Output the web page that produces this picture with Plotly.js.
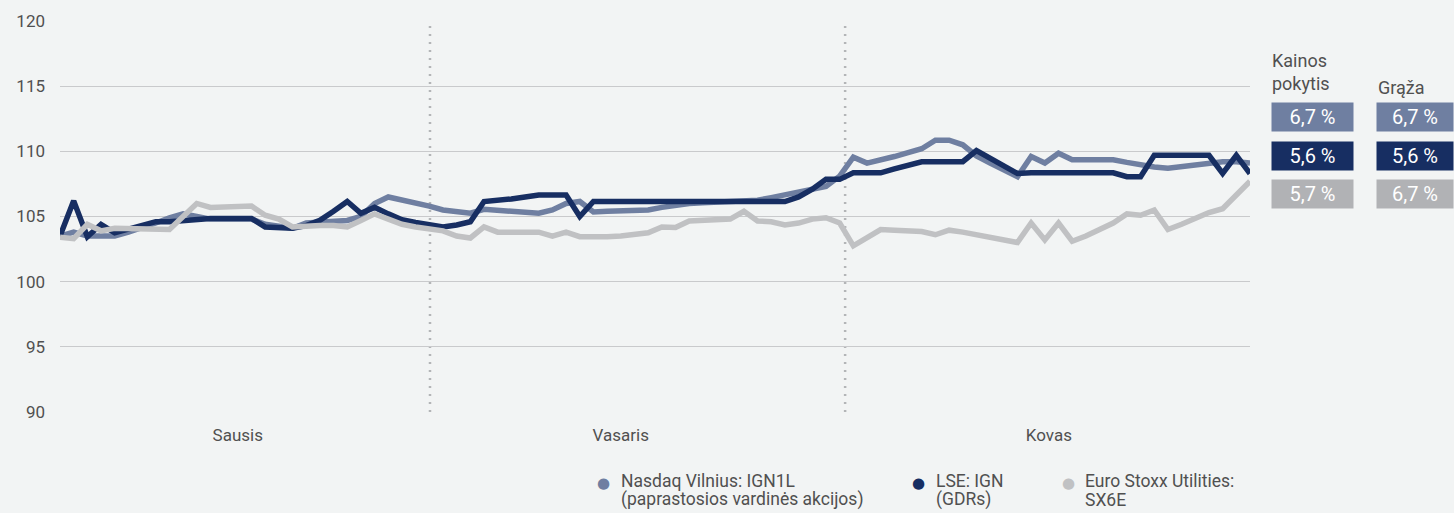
<!DOCTYPE html>
<html>
<head>
<meta charset="utf-8">
<script src="https://cdn.plot.ly/plotly-3.0.1.min.js"></script>
<style>
  html, body { margin: 0; padding: 0; background: #f2f4f4; }
  #chart { width: 1454px; height: 513px; }
</style>
</head>
<body>
<div id="chart"></div>
<script>
// ---- Data ----
const monthLabels = ["Sausis", "Vasaris", "Kovas"];
const monthTickPos = [13, 41, 72.3];
const monthDividers = [27.05, 57.4];

const seriesNames = [
  "Nasdaq Vilnius: IGN1L<br>(paprastosios vardinės akcijos)",
  "LSE: IGN<br>(GDRs)",
  "Euro Stoxx Utilities:<br>SX6E"
];

const nasdaqValues = [
  103.5, 103.8, 103.5, 103.5, 103.5, 103.8, 104.1, 104.5, 104.9, 105.2,
  105.0, 104.8, 104.8, 104.8, 104.8, 104.4, 104.3, 104.1, 104.5, 104.6,
  104.65, 104.7, 105.0, 106.0, 106.5, 106.3, 106.05, 105.8, 105.5, 105.4,
  105.25, 105.55, 105.45, 105.35, 105.3, 105.25, 105.5, 106.0, 106.15, 105.35,
  105.4, 105.45, 105.5, 105.5, 105.7, 105.9, 106.0, 106.05, 106.1, 106.15,
  106.2, 106.25, 106.45, 106.65, 106.8, 107.1, 107.3, 108.1, 109.55, 109.1,
  109.3, 109.6, 109.9, 110.2, 110.85, 110.85, 110.5, 109.65, 109.1, 108.55,
  108.05, 109.6, 109.1, 109.85, 109.35, 109.35, 109.35, 109.35, 109.15, 108.95,
  108.8, 108.7, 108.85, 109.0, 109.1, 109.2, 109.2, 109.1
];

const lseValues = [
  103.5, 106.2, 103.45, 104.4, 103.75, 104.0, 104.3, 104.6, 104.6, 104.7,
  104.75, 104.85, 104.85, 104.85, 104.85, 104.2, 104.2, 104.1, 104.3, 104.7,
  105.4, 106.15, 105.25, 105.7, 105.2, 104.75, 104.55, 104.4, 104.2, 104.35,
  104.6, 106.15, 106.2, 106.35, 106.5, 106.65, 106.65, 106.65, 105.0, 106.15,
  106.15, 106.15, 106.15, 106.15, 106.15, 106.15, 106.15, 106.15, 106.15, 106.15,
  106.15, 106.15, 106.15, 106.15, 106.5, 107.1, 107.85, 107.85, 108.35, 108.35,
  108.35, 108.65, 108.95, 109.2, 109.2, 109.2, 109.2, 110.05, 109.5, 108.9,
  108.3, 108.35, 108.35, 108.35, 108.35, 108.35, 108.35, 108.35, 108.05, 108.05,
  109.7, 109.7, 109.7, 109.7, 109.7, 108.3, 109.7, 108.3
];

const stoxxValues = [
  103.4, 103.3, 104.4, 103.9, 104.1, 104.1, 104.1, 104.1, 104.0, 105.0,
  106.0, 105.7, 105.7, 105.8, 105.8, 105.1, 104.8, 104.2, 104.3, 104.3,
  104.3, 104.2, 104.7, 105.2, 104.8, 104.4, 104.2, 104.0, 103.9, 103.5,
  103.35, 104.2, 103.8, 103.8, 103.8, 103.8, 103.5, 103.8, 103.45, 103.4,
  103.45, 103.5, 103.6, 103.75, 104.2, 104.15, 104.65, 104.7, 104.75, 104.8,
  105.4, 104.65, 104.6, 104.35, 104.5, 104.8, 104.9, 104.5, 102.75, 103.4,
  104.0, 103.95, 103.9, 103.85, 103.6, 103.95, 103.8, 103.6, 103.4, 103.15,
  103.0, 104.5, 103.2, 104.5, 103.1, 103.5, 104.0, 104.5, 105.2, 105.1,
  105.5, 104.0, 104.4, 104.9, 105.3, 105.6, 106.6, 107.7
];

const tableHeaders = ["Kainos<br>pokytis", "Grąža"];
const priceChange = ["6,7 %", "5,6 %", "5,7 %"];
const totalReturn = ["6,7 %", "5,6 %", "6,7 %"];

// ---- Styling ----
const colors = ["#6f7fa1", "#172e62", "#c0c1c3"];
const boxColors = ["#6f7fa1", "#172e62", "#b1b2b5"];
const FONT = "Roboto, Liberation Sans, Arial, sans-serif";
const TXT = "#505050";

// pixel helpers for the paper area (plot: x 60..1250, y 21..412)
const L = 60, R = 1250, T = 21, B = 412;
const px = v => (v - L) / (R - L);
const py = v => (B - v) / (B - T);

const valueSets = [nasdaqValues, lseValues, stoxxValues];
const traces = valueSets.map((vals, i) => ({
  type: "scatter",
  mode: "lines",
  y: vals,
  x0: 0, dx: 1,
  name: seriesNames[i],
  line: { color: colors[i], width: 5.5, shape: "linear" },
  showlegend: false,
  hoverinfo: "skip"
}));

const shapes = monthDividers.map(d => ({
  type: "line", xref: "x", yref: "paper",
  x0: d, x1: d, y0: 0, y1: 1,
  line: { color: "#b3b5b7", width: 2.5, dash: "2px,6px" },
  layer: "below"
}));

const annotations = [];
// Legend (drawn as text, one annotation per line for tight spacing)
const legendMarkerX = [603, 918, 1068];
const legendTextX = [619, 934, 1083];
const legendLineY = [481, 500];
seriesNames.forEach((n, i) => {
  annotations.push({
    xref: "paper", yref: "paper", x: px(legendMarkerX[i]), y: py(483),
    xanchor: "center", yanchor: "middle", showarrow: false,
    text: "●", font: { family: "DejaVu Sans", size: 15, color: colors[i] }
  });
  n.split("<br>").forEach((line, k) => {
    annotations.push({
      xref: "paper", yref: "paper", x: px(legendTextX[i]), y: py(legendLineY[k]),
      xanchor: "left", yanchor: "middle", align: "left", showarrow: false,
      text: line, font: { family: FONT, size: 17.5, color: TXT }
    });
  });
});
// Table headers
annotations.push({
  xref: "paper", yref: "paper", x: px(1270), y: py(48),
  xanchor: "left", yanchor: "top", align: "left", showarrow: false,
  text: tableHeaders[0], font: { family: FONT, size: 18, color: TXT }
});
annotations.push({
  xref: "paper", yref: "paper", x: px(1376), y: py(75),
  xanchor: "left", yanchor: "top", align: "left", showarrow: false,
  text: tableHeaders[1], font: { family: FONT, size: 18, color: TXT }
});
// Table boxes
const rowCenters = [117, 155.5, 194];
const colCenters = [1312.5, 1415];
[priceChange, totalReturn].forEach((col, c) => {
  col.forEach((t, r) => {
    annotations.push({
      xref: "paper", yref: "paper", x: px(colCenters[c]), y: py(rowCenters[r]),
      xanchor: "center", yanchor: "middle", showarrow: false,
      text: t, width: c === 0 ? 81 : 76, height: 28, borderpad: 0,
      bgcolor: boxColors[r], align: "center", valign: "middle",
      font: { family: FONT, size: 20, color: "#ffffff" }
    });
  });
});

const layout = {
  width: 1454, height: 513,
  margin: { l: L, r: 1454 - R, t: T, b: 513 - B },
  paper_bgcolor: "#f2f4f4",
  plot_bgcolor: "#f2f4f4",
  showlegend: false,
  xaxis: {
    range: [0, 87],
    tickmode: "array",
    tickvals: monthTickPos,
    ticktext: monthLabels,
    showgrid: false, zeroline: false, showline: false,
    ticks: "", ticklabelstandoff: 11,
    tickfont: { family: FONT, size: 17, color: TXT },
    fixedrange: true
  },
  yaxis: {
    range: [90, 120],
    tickmode: "array",
    tickvals: [90, 95, 100, 105, 110, 115, 120],
    showgrid: true, gridcolor: "#c9cacc", gridwidth: 1.3,
    zeroline: false, showline: false, ticks: "",
    ticklabelstandoff: 14,
    tickfont: { family: FONT, size: 17, color: TXT },
    fixedrange: true
  },
  shapes: shapes,
  annotations: annotations
};

Plotly.newPlot("chart", traces, layout, { displayModeBar: false, staticPlot: true });
</script>
</body>
</html>
